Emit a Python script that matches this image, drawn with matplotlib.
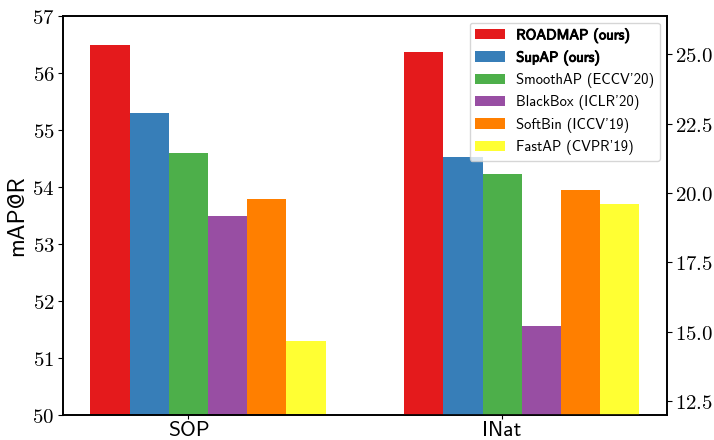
import numpy as np
import matplotlib
matplotlib.use('Agg')
import matplotlib.pyplot as plt
import matplotlib.patheffects as pe
from matplotlib.ticker import FuncFormatter, MultipleLocator

plt.rcParams['mathtext.fontset'] = 'cm'
plt.rcParams['axes.unicode_minus'] = False

# data
datasets = ['SOP', 'INat']
methods = ['ROADMAP (ours)', 'SupAP (ours)', 'SmoothAP (ECCV\'20)',
           'BlackBox (ICLR\'20)', 'SoftBin (ICCV\'19)', 'FastAP (CVPR\'19)']
colors = ['#e41a1c', '#377eb8', '#4daf4a', '#984ea3', '#ff7f00', '#ffff33']
sop = [56.5, 55.3, 54.6, 53.5, 53.8, 51.3]
inat = [25.1, 21.3, 20.7, 15.2, 20.1, 19.6]

sans = ['cmss10', 'DejaVu Sans']
w = 0.125
x = np.arange(len(datasets))

fig = plt.figure(figsize=(7.14, 4.4), dpi=100)
ax = fig.add_axes([0.088, 0.0557, 0.846, 0.908])
ax2 = ax.twinx()

for i, m in enumerate(methods):
    ax.bar(x[0] + (i - 2) * w, sop[i], w, color=colors[i], label=m)
    ax2.bar(x[1] + (i - 2) * w, inat[i], w, color=colors[i])

ax.set_ylim(50, 57)
ax2.set_ylim(11.97, 26.39)
ax.yaxis.set_major_locator(MultipleLocator(1))
ax2.yaxis.set_major_locator(MultipleLocator(2.5))
ax.yaxis.set_major_formatter(FuncFormatter(lambda v, p: '$%d$' % round(v)))
ax2.yaxis.set_major_formatter(FuncFormatter(lambda v, p: '$%.1f$' % v))
ax.tick_params(axis='y', labelsize=15, pad=2.5)
ax2.tick_params(axis='y', labelsize=15, pad=2)
ax.tick_params(axis='x', length=3, pad=1)

ax.set_xticks(x)
ax.set_xticklabels(datasets, family=sans, fontsize=15.5)
ax.set_ylabel('mAP@R', family=sans, fontsize=17, labelpad=3)

for a in (ax, ax2):
    for s in a.spines.values():
        s.set_linewidth(1.2)

h, l = ax.get_legend_handles_labels()
leg = ax2.legend(h, l, loc='upper right', prop={'family': sans, 'size': 10.5},
                 borderaxespad=0.45)
for k, t in enumerate(leg.get_texts()):
    if k < 2:
        t.set_path_effects([pe.withStroke(linewidth=0.7, foreground='black')])

plt.savefig('out.png', dpi=100)
